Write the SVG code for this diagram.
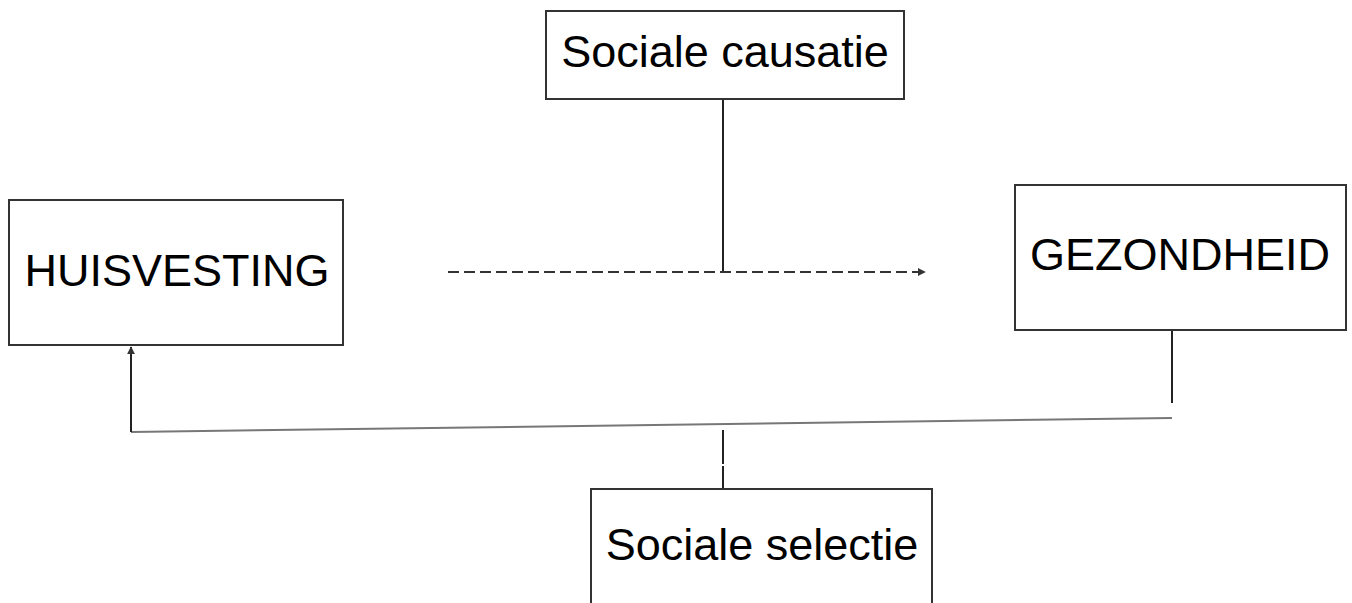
<svg xmlns="http://www.w3.org/2000/svg" width="1352" height="603" viewBox="0 0 1352 603">
<style>
.box{fill:#fff;stroke:#333;stroke-width:2}
.lbl{font-family:"Liberation Sans",Arial,sans-serif;font-size:45px;fill:#000}
.ln{stroke:#222;stroke-width:2;fill:none}
</style>
<defs>
<marker id="ah" viewBox="0 0 10 10" refX="9" refY="5" markerWidth="4" markerHeight="4" orient="auto" markerUnits="strokeWidth">
<path d="M0,0 L10,5 L0,10 z" fill="#333"/>
</marker>
</defs>
<rect width="1352" height="603" fill="#fff"/>
<g id="connectors">
<line class="ln" x1="723" y1="99" x2="723" y2="272"/>
<line x1="448" y1="272" x2="925" y2="272" stroke="#333" stroke-width="2" stroke-dasharray="11,5" marker-end="url(#ah)"/>
<line class="ln" x1="1172" y1="331" x2="1172" y2="403" stroke="#444"/>
<polyline points="1172,418 131,432" fill="none" stroke="#777" stroke-width="2"/>
<line class="ln" x1="131" y1="432" x2="131" y2="347" marker-end="url(#ah)"/>
<line class="ln" x1="723" y1="430" x2="723" y2="464"/>
<line class="ln" x1="723" y1="466" x2="723" y2="489"/>
</g>
<g id="sociale-causatie">
<rect class="box" x="546" y="11" width="358" height="88"/>
<text class="lbl" x="725" y="67" text-anchor="middle">Sociale causatie</text>
</g>
<g id="huisvesting">
<rect class="box" x="9" y="200" width="334" height="145"/>
<text class="lbl" x="177" y="286" text-anchor="middle">HUISVESTING</text>
</g>
<g id="gezondheid">
<rect class="box" x="1015" y="185" width="331" height="145"/>
<text class="lbl" x="1180" y="270" text-anchor="middle">GEZONDHEID</text>
</g>
<g id="sociale-selectie">
<rect class="box" x="591" y="489" width="341" height="130"/>
<text class="lbl" x="762" y="560" text-anchor="middle">Sociale selectie</text>
</g>
</svg>
